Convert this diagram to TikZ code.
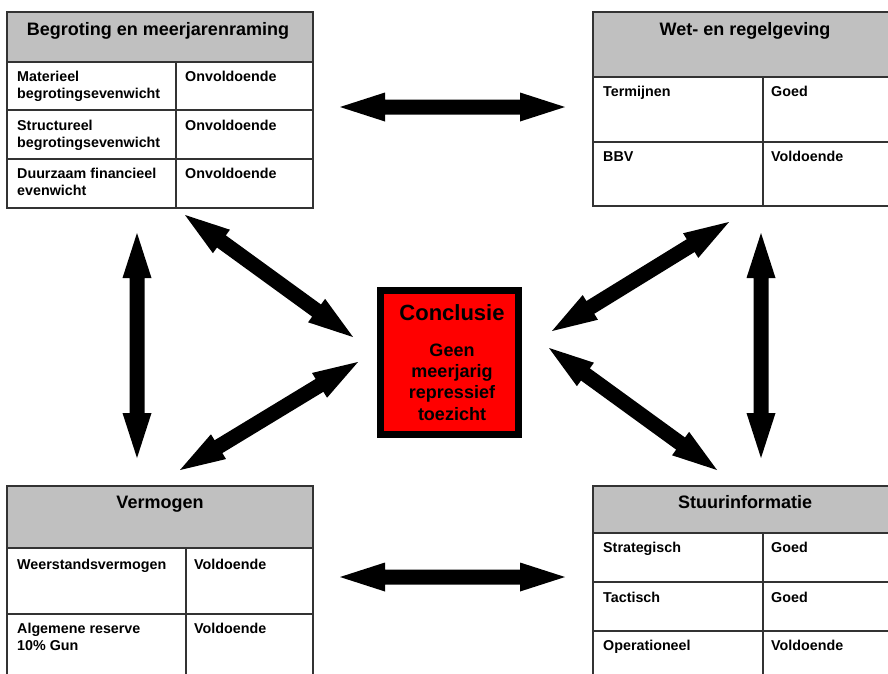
\documentclass[tikz,border=0pt]{standalone}
\usepackage{fontspec}
\setmainfont{Liberation Sans}
\usetikzlibrary{calc}
\definecolor{hdrgray}{RGB}{192,192,192}
\definecolor{boxred}{RGB}{255,0,0}
\tikzset{
  tab/.style={draw=black!80, line width=1.3pt},
  htext/.style={anchor=base, inner sep=0pt, font=\fontsize{18}{22}\selectfont\bfseries},
  ctext/.style={anchor=base west, inner sep=0pt, font=\fontsize{14.3}{17}\selectfont\bfseries},
  ztext/.style={anchor=base, inner sep=0pt, font=\fontsize{18}{21}\selectfont\bfseries},
  ttext/.style={anchor=base, inner sep=0pt, font=\fontsize{22}{26}\selectfont\bfseries},
}
\newcommand{\dblarr}[2]{%
  \coordinate (#1-h) at ($(#1)!45pt!(#2)$);
  \coordinate (#2-h) at ($(#2)!45pt!(#1)$);
  \fill[black] (#1) -- ($(#1-h)!14.5pt!90:(#2)$) -- ($(#1-h)!7.5pt!90:(#2)$)
    -- ($(#2-h)!7.5pt!-90:(#1)$) -- ($(#2-h)!14.5pt!-90:(#1)$) -- (#2)
    -- ($(#2-h)!14.5pt!90:(#1)$) -- ($(#2-h)!7.5pt!90:(#1)$)
    -- ($(#1-h)!7.5pt!-90:(#2)$) -- ($(#1-h)!14.5pt!-90:(#2)$) -- cycle;
}
\begin{document}
\begin{tikzpicture}[x=1pt,y=-1pt]
\useasboundingbox (0,0) rectangle (888,673);
\clip (0,0) rectangle (888,673);
\fill[white] (0,0) rectangle (888,673);

% ---------- Top-left table ----------
\draw[tab, fill=hdrgray] (7,12) rectangle (313,62);
\draw[tab] (7,62) rectangle (313,208);
\draw[tab] (7,110) -- (313,110);
\draw[tab] (7,159) -- (313,159);
\draw[tab] (176,62) -- (176,208);
\node[htext] (tlh) at (158,35) {Begroting en meerjarenraming};
\node[ctext] (tl1a) at (17,81) {Materieel};
\node[ctext] (tl1b) at (17,98) {begrotingsevenwicht};
\node[ctext] (tl1c) at (185,81) {Onvoldoende};
\node[ctext] (tl2a) at (17,130) {Structureel};
\node[ctext] (tl2b) at (17,147) {begrotingsevenwicht};
\node[ctext] (tl2c) at (185,130) {Onvoldoende};
\node[ctext] (tl3a) at (17,178) {Duurzaam financieel};
\node[ctext] (tl3b) at (17,195) {evenwicht};
\node[ctext] (tl3c) at (185,178) {Onvoldoende};

% ---------- Top-right table (runs off the right edge) ----------
\draw[tab, fill=hdrgray] (593,12) rectangle (900,77);
\draw[tab] (593,77) rectangle (900,206);
\draw[tab] (593,142) -- (900,142);
\draw[tab] (763,77) -- (763,206);
\node[htext] (trh) at (745,35) {Wet- en regelgeving};
\node[ctext] (tr1a) at (603,96) {Termijnen};
\node[ctext] (tr1c) at (771,96) {Goed};
\node[ctext] (tr2a) at (603,161) {BBV};
\node[ctext] (tr2c) at (771,161) {Voldoende};

% ---------- Bottom-left table ----------
\draw[tab, fill=hdrgray] (7,486) rectangle (313,548);
\draw[tab] (7,548) -- (7,690);
\draw[tab] (313,548) -- (313,690);
\draw[tab] (7,614) -- (313,614);
\draw[tab] (186,548) -- (186,690);
\node[htext] (blh) at (160,508) {Vermogen};
\node[ctext] (bl1a) at (17,569) {Weerstandsvermogen};
\node[ctext] (bl1c) at (194,569) {Voldoende};
\node[ctext] (bl2a) at (17,633) {Algemene reserve};
\node[ctext] (bl2b) at (17,650) {10\% Gun};
\node[ctext] (bl2c) at (194,633) {Voldoende};

% ---------- Bottom-right table (runs off the right edge) ----------
\draw[tab, fill=hdrgray] (593,486) rectangle (900,533);
\draw[tab] (593,533) -- (593,690);
\draw[tab] (593,582) -- (900,582);
\draw[tab] (593,631) -- (900,631);
\draw[tab] (763,533) -- (763,690);
\node[htext] (brh) at (745,508) {Stuurinformatie};
\node[ctext] (br1a) at (603,552) {Strategisch};
\node[ctext] (br1c) at (771,552) {Goed};
\node[ctext] (br2a) at (603,602) {Tactisch};
\node[ctext] (br2c) at (771,602) {Goed};
\node[ctext] (br3a) at (603,650) {Operationeel};
\node[ctext] (br3c) at (771,650) {Voldoende};

% ---------- Centre box ----------
\node[draw=black, line width=7pt, fill=boxred, minimum width=138pt, minimum height=144pt, inner sep=0pt] (concl) at (449.5,362.5) {};
\node[ttext] (c0) at (452,320) {Conclusie};
\node[ztext] (c1) at (452,356) {Geen};
\node[ztext] (c2) at (452,377) {meerjarig};
\node[ztext] (c3) at (452,398.5) {repressief};
\node[ztext] (c4) at (452,420) {toezicht};

% ---------- Arrows ----------
\coordinate (ha1) at (340,107);  \coordinate (ha2) at (565,107);
\coordinate (hb1) at (340,577);  \coordinate (hb2) at (565,577);
\coordinate (va1) at (137,233);  \coordinate (va2) at (137,458);
\coordinate (vb1) at (761,233);  \coordinate (vb2) at (761,458);
\coordinate (d11) at (185,215);  \coordinate (d12) at (353,337);
\coordinate (d21) at (180,470);  \coordinate (d22) at (358,362);
\coordinate (d31) at (729,222);  \coordinate (d32) at (552,331);
\coordinate (d41) at (549,348);  \coordinate (d42) at (717,470);
\dblarr{ha1}{ha2}
\dblarr{hb1}{hb2}
\dblarr{va1}{va2}
\dblarr{vb1}{vb2}
\dblarr{d11}{d12}
\dblarr{d21}{d22}
\dblarr{d31}{d32}
\dblarr{d41}{d42}
\end{tikzpicture}
\end{document}
